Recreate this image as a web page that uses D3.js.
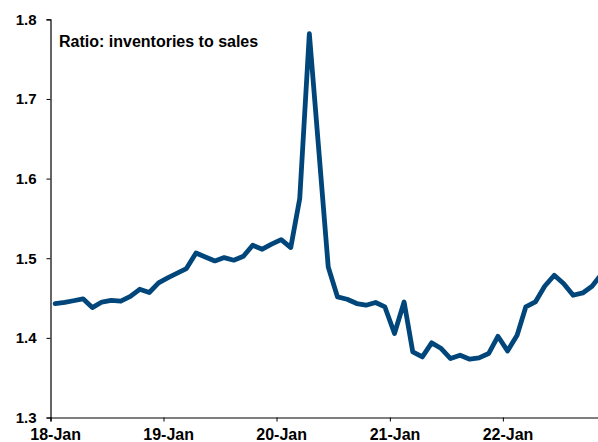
<!DOCTYPE html>
<html>
<head>
<meta charset="utf-8">
<script src="https://cdn.jsdelivr.net/npm/d3@7"></script>
<style>
  html, body { margin: 0; padding: 0; background: #fff; }
  svg { display: block; }
  text { font-family: Arial, "Liberation Sans", sans-serif; font-weight: bold; fill: #000; }
</style>
</head>
<body>
<svg id="chart" width="598" height="442"></svg>
<script>
// Monthly inventories-to-sales ratio, Jan 2018 – Nov 2022
const firstMonth = "2018-01";
const ratio = [
  1.443, 1.4445, 1.4466, 1.449, 1.438, 1.445, 1.447, 1.446, 1.452, 1.461, 1.457, 1.469,
  1.4757, 1.4815, 1.487, 1.5066, 1.5016, 1.4966, 1.5008, 1.4975, 1.5025, 1.5163, 1.5113, 1.5176,
  1.5234, 1.5134, 1.575, 1.782, 1.638, 1.489, 1.4514, 1.4485, 1.4431, 1.441, 1.4444, 1.4388,
  1.4054, 1.4451, 1.3824, 1.3761, 1.3937, 1.3866, 1.374, 1.3782, 1.3732, 1.3748, 1.3803, 1.402,
  1.3836, 1.4033, 1.4388, 1.4451, 1.4648, 1.4786, 1.4682, 1.4535, 1.4564, 1.4648, 1.480
];
const yTicks = [1.3, 1.4, 1.5, 1.6, 1.7, 1.8];
const xTickYears = [2018, 2019, 2020, 2021, 2022];
const title = "Ratio: inventories to sales";

const svg = d3.select("#chart");
const parseMonth = d3.timeParse("%Y-%m");
const start = parseMonth(firstMonth);
const months = d3.timeMonth.range(start, d3.timeMonth.offset(start, ratio.length));
// each point sits in the middle of its month
const data = months.map((m, i) => ({ date: d3.timeDay.offset(m, 15), value: ratio[i] }));

const plotLeft = 50.5, plotBottom = 417.5, plotTop = 19.3;
const x = d3.scaleTime()
  .domain([start, d3.timeMonth.offset(start, ratio.length)])
  .range([plotLeft, plotLeft + ratio.length * 9.42]);
const y = d3.scaleLinear().domain([1.3, 1.8]).range([plotBottom, plotTop]);

// y axis
const yAxis = d3.axisLeft(y).tickValues(yTicks).tickFormat(d3.format(".1f")).tickSize(4).tickPadding(10);
const gy = svg.append("g").attr("transform", `translate(${plotLeft},0)`).call(yAxis);
gy.select(".domain").attr("stroke", "#000").attr("stroke-width", 1.2);
gy.selectAll(".tick line").attr("stroke", "#000");
gy.selectAll("text").style("font-size", "15px").style("font-family", "Arial, 'Liberation Sans', sans-serif").attr("fill", "#000");

// x axis: ticks at year starts, labels centred on January
const xTickDates = xTickYears.map(yr => new Date(yr, 0, 1));
const xAxis = d3.axisBottom(x).tickValues(xTickDates).tickFormat(d3.timeFormat("%y-%b")).tickSize(4).tickPadding(7.5);
const gx = svg.append("g").attr("transform", `translate(0,${plotBottom})`).call(xAxis);
gx.select(".domain").attr("stroke", "#000").attr("stroke-width", 1.2);
gx.selectAll(".tick line").attr("stroke", "#000");
gx.selectAll("text")
  .style("font-size", "16px").style("font-family", "Arial, 'Liberation Sans', sans-serif").attr("fill", "#000")
  .attr("x", d => x(d3.timeDay.offset(d, 15)) - x(d));

// series line
const line = d3.line().x(d => x(d.date)).y(d => y(d.value));
svg.append("path")
  .datum(data)
  .attr("fill", "none")
  .attr("stroke", "#00467a")
  .attr("stroke-width", 4.8)
  .attr("stroke-linejoin", "round")
  .attr("stroke-linecap", "round")
  .attr("d", line);

// chart title
svg.append("text")
  .attr("x", 59)
  .attr("y", 47)
  .style("font-size", "16px")
  .text(title);
</script>
</body>
</html>
